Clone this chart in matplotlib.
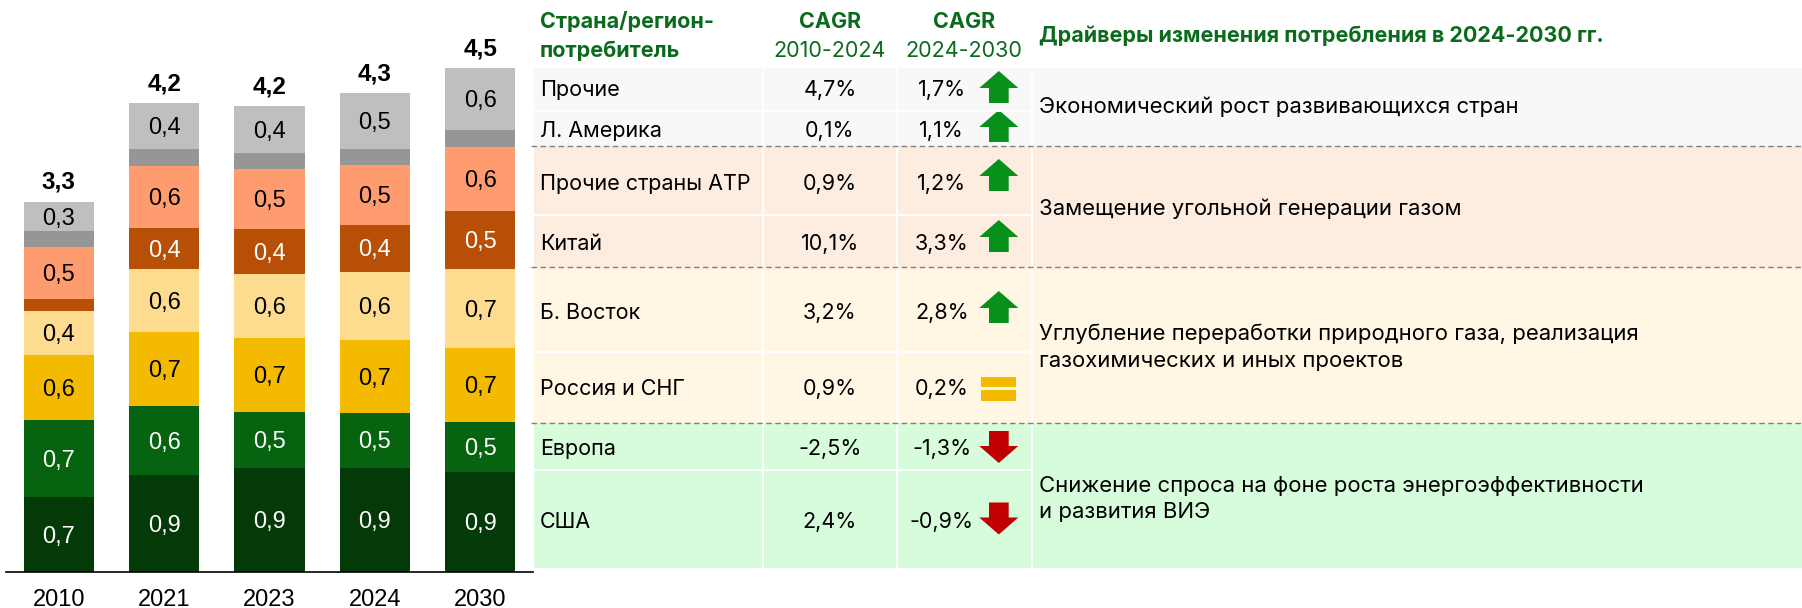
import matplotlib
matplotlib.use('Agg')
import matplotlib.pyplot as plt
from matplotlib.patches import Polygon, Rectangle

plt.rcParams['font.family'] = ['Inter', 'DejaVu Sans']

years = ['2010', '2021', '2023', '2024', '2030']
# bottom to top
usa = [0.668, 0.862, 0.931, 0.931, 0.889]
europe = [0.692, 0.619, 0.502, 0.488, 0.450]
russia = [0.574, 0.661, 0.654, 0.654, 0.657]
mideast = [0.394, 0.564, 0.578, 0.609, 0.713]
china = [0.107, 0.363, 0.394, 0.415, 0.512]
apac = [0.464, 0.554, 0.536, 0.533, 0.571]
latam = [0.142, 0.156, 0.142, 0.145, 0.152]
other = [0.266, 0.408, 0.422, 0.498, 0.554]
totals = ['3,3', '4,2', '4,2', '4,3', '4,5']

usa_lab = ['0,7', '0,9', '0,9', '0,9', '0,9']
europe_lab = ['0,7', '0,6', '0,5', '0,5', '0,5']
russia_lab = ['0,6', '0,7', '0,7', '0,7', '0,7']
mideast_lab = ['0,4', '0,6', '0,6', '0,6', '0,7']
china_lab = ['', '0,4', '0,4', '0,4', '0,5']
apac_lab = ['0,5', '0,6', '0,5', '0,5', '0,6']
latam_lab = ['', '', '', '', '']
other_lab = ['0,3', '0,4', '0,4', '0,5', '0,6']

regions = ['Прочие', 'Л. Америка', 'Прочие страны АТР', 'Китай', 'Б. Восток',
           'Россия и СНГ', 'Европа', 'США']
cagr_hist = ['4,7%', '0,1%', '0,9%', '10,1%', '3,2%', '0,9%', '-2,5%', '2,4%']
cagr_fcst = ['1,7%', '1,1%', '1,2%', '3,3%', '2,8%', '0,2%', '-1,3%', '-0,9%']
trend = ['up', 'up', 'up', 'up', 'up', 'flat', 'down', 'down']
drivers = ['Экономический рост развивающихся стран',
           'Замещение угольной генерации газом',
           'Углубление переработки природного газа, реализация\nгазохимических и иных проектов',
           'Снижение спроса на фоне роста энергоэффективности\nи развития ВИЭ']

W, H = 1802, 608
GREEN = '#0b6b1c'
FS = 15.5
BAR_FONT = ['Liberation Sans', 'DejaVu Sans']

fig = plt.figure(figsize=(W / 100, H / 100), dpi=100)

# pixel overlay for the table
tab = fig.add_axes([0, 0, 1, 1])
tab.set_xlim(0, W)
tab.set_ylim(H, 0)
tab.axis('off')

# stacked bars
ax = fig.add_axes([6 / W, (H - 572) / H, 527 / W, 572 / H])
ax.patch.set_alpha(0)
series = [
    (usa, usa_lab, '#033a07', 'white'),
    (europe, europe_lab, '#066310', 'white'),
    (russia, russia_lab, '#f4ba00', 'black'),
    (mideast, mideast_lab, '#fddc90', 'black'),
    (china, china_lab, '#b84f06', 'white'),
    (apac, apac_lab, '#fe9c70', 'black'),
    (latam, latam_lab, '#969696', 'black'),
    (other, other_lab, '#bfbfbf', 'black'),
]
bottom = [0.0] * len(years)
for vals, labs, color, tcolor in series:
    bars = ax.bar(range(len(years)), vals, 0.667, bottom=bottom, color=color)
    ax.bar_label(bars, labels=labs, label_type='center', color=tcolor, fontsize=17,
                 family=BAR_FONT, padding=-1.5)
    bottom = [b + v for b, v in zip(bottom, vals)]

for i, t in enumerate(totals):
    ax.annotate(t, (i, bottom[i]), xytext=(0, 14), textcoords='offset points',
                ha='center', va='center', fontsize=17.5, fontweight='bold', family=BAR_FONT)

ax.set_xlim(-0.5, 4.5)
ax.set_ylim(0, 572 / 112)
ax.set_yticks([])
ax.set_xticks(range(len(years)))
ax.set_xticklabels(years, fontsize=17, family=BAR_FONT)
ax.tick_params(axis='x', length=0, pad=12)
for s in ['top', 'left', 'right']:
    ax.spines[s].set_visible(False)
ax.spines['bottom'].set_linewidth(1.2)

# table background
bands = [(68, 146, '#f8f8f8'), (146, 267, '#fdece0'), (267, 423, '#fff6e3'), (423, 568, '#d7fcdb')]
for y0, y1, c in bands:
    tab.add_patch(Rectangle((534, y0), W - 534, y1 - y0, color=c, lw=0))
for x in [763, 897, 1032]:
    tab.plot([x, x], [68, 568], color='white', lw=1.4)
for y in [111, 215, 352, 470]:
    tab.plot([534, 1032], [y, y], color='white', lw=1.4)
for y in [146, 267, 423]:
    tab.plot([531, W], [y, y], color='#808080', lw=1, ls=(0, (4, 2.5)))

# header
hdr = dict(color=GREEN, fontsize=FS, va='center')
tab.text(540, 22, 'Страна/регион-', fontweight='bold', **hdr)
tab.text(540, 51, 'потребитель', fontweight='bold', **hdr)
tab.text(830, 22, 'CAGR', ha='center', fontweight='bold', **hdr)
tab.text(830, 51, '2010-2024', ha='center', **hdr)
tab.text(964, 22, 'CAGR', ha='center', fontweight='bold', **hdr)
tab.text(964, 51, '2024-2030', ha='center', **hdr)
tab.text(1039, 36, 'Драйверы изменения потребления в 2024-2030 гг.', fontweight='bold', **hdr)


def arrow(cy, kind):
    if kind == 'flat':
        tab.add_patch(Rectangle((981, cy - 10.5), 35, 10, color='#f4ba00', lw=0))
        tab.add_patch(Rectangle((981, cy + 2.5), 35, 10.5, color='#f4ba00', lw=0))
        return
    s = 1 if kind == 'up' else -1
    c = '#07901a' if kind == 'up' else '#c00000'
    pts = [(998.8, cy - 16 * s), (1018.3, cy + 1 * s), (1008.7, cy + 1 * s), (1008.7, cy + 16 * s),
           (989, cy + 16 * s), (989, cy + 1 * s), (979.3, cy + 1 * s)]
    tab.add_patch(Polygon(pts, closed=True, color=c, lw=0))


text_y = [90, 131, 183.5, 243.5, 313, 389, 449, 522]
arrow_y = [87, 126, 175, 236, 307, 387.5, 447, 518.5]
for i, name in enumerate(regions):
    y = text_y[i]
    tab.text(540, y, name, fontsize=FS, va='center')
    tab.text(830, y, cagr_hist[i], fontsize=FS, va='center', ha='center')
    tab.text(941.7, y, cagr_fcst[i], fontsize=FS, va='center', ha='center')
    arrow(arrow_y[i], trend[i])

driver_y = [107, 209, 347, 499]
for y, d in zip(driver_y, drivers):
    tab.text(1039, y, d, fontsize=15.9, va='center', linespacing=1.43)

fig.savefig('out.png', dpi=100)
